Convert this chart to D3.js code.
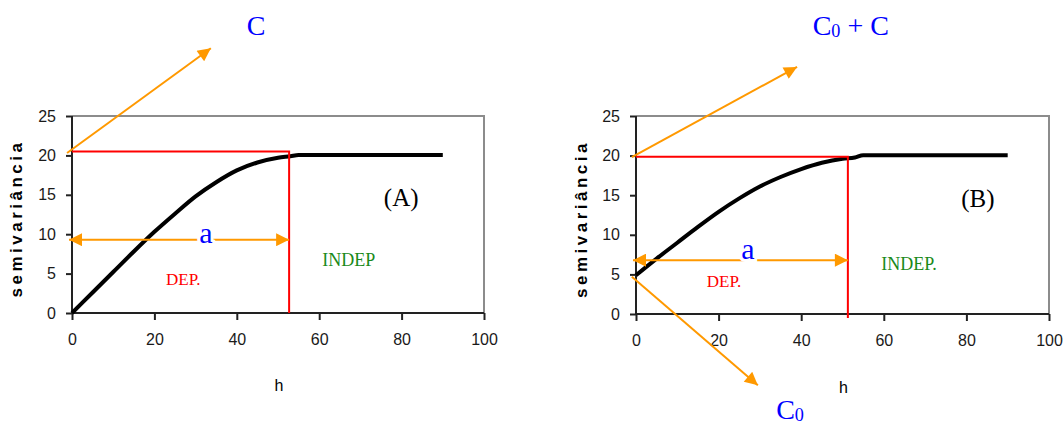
<!DOCTYPE html>
<html>
<head>
<meta charset="UTF-8">
<title>Semivariograma</title>
<script src="https://cdn.jsdelivr.net/npm/d3@7"></script>
<style>
  * { margin: 0; padding: 0; }
  body { background: #fff; }
  .tick text { font-family: "Liberation Sans", Arial, sans-serif; font-size: 16px; fill: #1a1a1a; }
  .serif { font-family: "Liberation Serif", "Times New Roman", serif; }
</style>
</head>
<body>
<div id="grafico"></div>
<script>
// distancias h (eixo x)
var hValues   = [0, 5, 10, 15, 20, 25, 30, 35, 40, 45, 50, 53, 55, 60, 70, 80, 90];
// semivariancia, modelo sem efeito pepita (A)
var semivarA  = [0, 2.6, 5.2, 7.8, 10.3, 12.6, 14.8, 16.6, 18.1, 19.1, 19.7, 19.9, 20.05, 20.05, 20.05, 20.05, 20.05];
// semivariancia, modelo com efeito pepita (B)
var semivarB  = [4.9, 7.0, 9.0, 11.0, 12.9, 14.6, 16.1, 17.3, 18.3, 19.1, 19.6, 19.75, 20.05, 20.05, 20.05, 20.05, 20.05];
var xTicks = [0, 20, 40, 60, 80, 100];
var yTicks = [0, 5, 10, 15, 20, 25];

var w = 1064, h = 427;
var laranja = "#ff9900";

var svg = d3.select("#grafico").append("svg")
    .attr("width", w).attr("height", h);

var defs = svg.append("defs");
defs.append("marker")
    .attr("id", "seta")
    .attr("viewBox", "0 0 10 10")
    .attr("refX", 10).attr("refY", 5)
    .attr("markerUnits", "userSpaceOnUse")
    .attr("markerWidth", 15).attr("markerHeight", 13)
    .attr("orient", "auto-start-reverse")
    .append("path")
    .attr("d", "M0,0 L10,5 L0,10 Z")
    .attr("fill", laranja);

// desenha um painel
function painel(cfg) {
    var xScale = d3.scaleLinear().domain([0, 100]).range([cfg.left, cfg.right]);
    var yScale = d3.scaleLinear().domain([0, 25]).range([cfg.bottom, cfg.top]);
    var g = svg.append("g");

    // moldura cinza (topo e direita)
    g.append("path")
        .attr("d", "M" + cfg.left + "," + cfg.top + "H" + cfg.right + "V" + cfg.bottom)
        .attr("fill", "none").attr("stroke", "#8c8c8c").attr("stroke-width", 2);

    var eixoX = g.append("g")
        .attr("transform", "translate(0," + cfg.bottom + ")")
        .call(d3.axisBottom(xScale).tickValues(xTicks).tickSize(7).tickPadding(14));
    var eixoY = g.append("g")
        .attr("transform", "translate(" + cfg.left + ",0)")
        .call(d3.axisLeft(yScale).tickValues(yTicks).tickSize(6).tickPadding(10));
    [eixoX, eixoY].forEach(function(e) {
        e.select(".domain").attr("stroke", "#222").attr("stroke-width", 2);
        e.selectAll(".tick line").attr("stroke", "#222").attr("stroke-width", 2);
    });
    eixoX.select(".domain").attr("d", "M" + cfg.left + ",0H" + cfg.right);
    eixoY.select(".domain").attr("d", "M0," + cfg.bottom + "V" + cfg.top);

    // titulos dos eixos
    g.append("text")
        .attr("transform", "translate(" + cfg.yTitleX + "," + (cfg.top + cfg.bottom + 8) / 2 + ") rotate(-90)")
        .attr("text-anchor", "middle")
        .attr("font-family", "Liberation Sans, Arial, sans-serif")
        .attr("font-weight", "bold").attr("font-size", 17)
        .attr("letter-spacing", 3.5)
        .text("semivariância");
    g.append("text")
        .attr("x", (cfg.left + cfg.right) / 2 + 1).attr("y", cfg.hTitleY)
        .attr("text-anchor", "middle")
        .attr("font-family", "Liberation Sans, Arial, sans-serif")
        .attr("font-size", 16)
        .text("h");

    // curva do semivariograma
    var linha = d3.line()
        .x(function(d, i) { return xScale(hValues[i]); })
        .y(function(d) { return yScale(d); })
        .curve(d3.curveMonotoneX);
    g.append("path")
        .datum(cfg.dados)
        .attr("d", linha)
        .attr("fill", "none").attr("stroke", "#000").attr("stroke-width", 4);

    // linhas vermelhas (patamar e alcance)
    g.append("path")
        .attr("d", "M" + xScale(0) + "," + yScale(cfg.patamar) + "H" + xScale(cfg.alcance) +
              "V" + (cfg.bottom + cfg.redExtra))
        .attr("fill", "none").attr("stroke", "#ff0000").attr("stroke-width", 2);

    // seta do alcance "a"
    g.append("line")
        .attr("x1", xScale(0) - 3).attr("y1", yScale(cfg.aY))
        .attr("x2", xScale(cfg.alcance)).attr("y2", yScale(cfg.aY))
        .attr("stroke", laranja).attr("stroke-width", 2)
        .attr("marker-start", "url(#seta)").attr("marker-end", "url(#seta)");

    // setas laranja para os rotulos
    cfg.setas.forEach(function(s) {
        g.append("line")
            .attr("x1", xScale(s[0])).attr("y1", yScale(s[1]))
            .attr("x2", xScale(s[2])).attr("y2", yScale(s[3]))
            .attr("stroke", laranja).attr("stroke-width", 2)
            .attr("marker-end", "url(#seta)");
    });

    // rotulos
    cfg.rotulos.forEach(function(r) {
        var t = g.append("text")
            .attr("class", "serif")
            .attr("x", xScale(r.h)).attr("y", yScale(r.v))
            .attr("text-anchor", "middle")
            .attr("font-size", r.size).attr("fill", r.cor);
        if (r.fundo) {
            t.attr("stroke", "#fff").attr("stroke-width", 6).attr("paint-order", "stroke");
        }
        if (r.sub) {
            t.append("tspan").text(r.texto);
            t.append("tspan").attr("font-size", r.size * 0.65).attr("dy", 2).text(r.sub);
            if (r.resto) t.append("tspan").attr("dy", -2).text(r.resto);
        } else {
            t.text(r.texto);
        }
    });
    return {x: xScale, y: yScale, g: g};
}

painel({
    left: 72, right: 484, top: 116, bottom: 313,
    yTitleX: 22, hTitleY: 391,
    dados: semivarA, patamar: 20.5, alcance: 52.7, aY: 9.3, redExtra: 0,
    setas: [[-1.2, 20.3, 33.7, 33.6]],
    rotulos: [
        {texto: "C", h: 44.7, v: 35.3, size: 28, cor: "#0000ff"},
        {texto: "(A)", h: 79.9, v: 13.6, size: 25, cor: "#000"},
        {texto: "a", h: 32.5, v: 8.9, size: 30, cor: "#0000ff", fundo: true},
        {texto: "DEP.", h: 27, v: 3.55, size: 17, cor: "#ff0000"},
        {texto: "INDEP", h: 67.2, v: 6.0, size: 18, cor: "#1a8a1a"}
    ]
});

painel({
    left: 636, right: 1049, top: 116, bottom: 314,
    yTitleX: 587, hTitleY: 393,
    dados: semivarB, patamar: 19.85, alcance: 51.3, aY: 6.8, redExtra: 4,
    setas: [[-1, 19.8, 39, 31.2], [-1, 4.7, 29.5, -9.0]],
    rotulos: [
        {texto: "C", sub: "0", resto: " + C", h: 52, v: 35.2, size: 28, cor: "#0000ff"},
        {texto: "C", sub: "0", h: 37.3, v: -13.2, size: 28, cor: "#0000ff"},
        {texto: "(B)", h: 82.8, v: 13.5, size: 25, cor: "#000"},
        {texto: "a", h: 27.1, v: 6.9, size: 30, cor: "#0000ff", fundo: true},
        {texto: "DEP.", h: 21.3, v: 3.4, size: 17, cor: "#ff0000"},
        {texto: "INDEP.", h: 66.1, v: 5.6, size: 18, cor: "#1a8a1a"}
    ]
});
</script>
</body>
</html>
